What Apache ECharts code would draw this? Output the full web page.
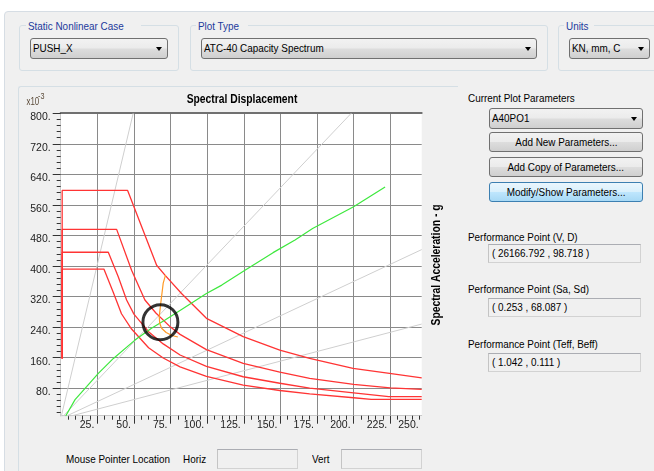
<!DOCTYPE html>
<html>
<head>
<meta charset="utf-8">
<script src="https://cdn.jsdelivr.net/npm/echarts@6/dist/echarts.min.js"></script>
<style>
body{margin:0;width:654px;height:471px;overflow:hidden;background:#fff;position:relative;
  font-family:'Liberation Sans',Arial,sans-serif;font-size:11.5px;color:#000}
#frame{position:absolute;left:4px;top:11px;width:670px;height:480px;background:#f0f0f0;border:1px solid #d6dde4;border-radius:4px}
.grp{position:absolute;border:1px solid #d5dfe5;border-radius:3px;box-sizing:border-box}
.gt{position:absolute;top:-7px;background:#f0f0f0;color:#1c3a9c;padding:0 2px;white-space:nowrap;line-height:14px}
.t{position:absolute;white-space:nowrap;line-height:14px}
.n{display:inline-block;transform:scaleX(.86);transform-origin:0 50%}
.btn{position:absolute;box-sizing:border-box;border:1px solid #707070;border-radius:3px;
  background:linear-gradient(#f2f2f2 0%,#ebebeb 48%,#dddddd 52%,#cfcfcf 100%);text-align:center;white-space:nowrap}
.btn .n{transform-origin:50% 50%}
.combo{text-align:left;padding-left:2px}
.combo .n{transform-origin:0 50%}
.arr{position:absolute;right:5px;top:8px;width:0;height:0;border-left:3.5px solid transparent;border-right:3.5px solid transparent;border-top:4px solid #000}
.tb{position:absolute;box-sizing:border-box;border:1px solid #d2d2d2;border-top-color:#abadb3;border-left-color:#c4c4c4;background:#f0f0f0;padding-left:3px;white-space:nowrap}
#chart{position:absolute;left:0;top:0;width:654px;height:471px}
</style>
</head>
<body>
<div id="frame"></div>

<div class="grp" style="left:19px;top:25px;width:160px;height:46px"><span class="gt" style="left:6px"><span class="n">Static Nonlinear Case</span></span></div>
<div class="btn combo" style="left:30px;top:38px;width:138px;height:21px;line-height:19px"><span class="n">PUSH_X</span><span class="arr"></span></div>

<div class="grp" style="left:190px;top:25px;width:358px;height:46px"><span class="gt" style="left:5px"><span class="n">Plot Type</span></span></div>
<div class="btn combo" style="left:201px;top:38px;width:336px;height:21px;line-height:19px"><span class="n">ATC-40 Capacity Spectrum</span><span class="arr"></span></div>

<div class="grp" style="left:558px;top:25px;width:120px;height:46px"><span class="gt" style="left:5px"><span class="n">Units</span></span></div>
<div class="btn combo" style="left:569px;top:38px;width:81px;height:21px;line-height:19px"><span class="n">KN, mm, C</span><span class="arr"></span></div>

<div class="grp" style="left:18px;top:86px;width:440px;height:400px;border-right:0;border-radius:3px 0 0 3px"></div>

<div class="t" style="left:468px;top:91px"><span class="n">Current Plot Parameters</span></div>
<div class="btn combo" style="left:489px;top:108px;width:154px;height:21px;line-height:19px"><span class="n">A40PO1</span><span class="arr"></span></div>
<div class="btn" style="left:489px;top:132px;width:154px;height:20px;line-height:18px"><span class="n">Add New Parameters...</span></div>
<div class="btn" style="left:489px;top:157px;width:154px;height:20px;line-height:18px"><span class="n">Add Copy of Parameters...</span></div>
<div class="btn" style="left:489px;top:182px;width:154px;height:20px;line-height:18px;border-color:#3c7fb1;background:linear-gradient(#eaf6fd 0%,#d9f0fc 48%,#bee6fd 52%,#a7d9f5 100%)"><span class="n">Modify/Show Parameters...</span></div>

<div class="t" style="left:468px;top:230px"><span class="n">Performance Point (V, D)</span></div>
<div class="tb" style="left:488px;top:244px;width:153px;height:19px;line-height:17px"><span class="n">( 26166.792 , 98.718 )</span></div>
<div class="t" style="left:468px;top:282px"><span class="n">Performance Point (Sa, Sd)</span></div>
<div class="tb" style="left:488px;top:298px;width:153px;height:19px;line-height:17px"><span class="n">( 0.253 , 68.087 )</span></div>
<div class="t" style="left:468px;top:337px"><span class="n">Performance Point (Teff, Beff)</span></div>
<div class="tb" style="left:488px;top:353px;width:153px;height:19px;line-height:17px"><span class="n">( 1.042 , 0.111 )</span></div>

<div class="t" style="left:66px;top:452px"><span class="n">Mouse Pointer Location</span></div>
<div class="t" style="left:183px;top:452px"><span class="n">Horiz</span></div>
<div class="tb" style="left:217px;top:449px;width:81px;height:20px"></div>
<div class="t" style="left:312px;top:452px"><span class="n">Vert</span></div>
<div class="tb" style="left:341px;top:449px;width:81px;height:20px"></div>

<div id="chart"></div>
<script>
var FONT = "'Liberation Sans',Arial,sans-serif";

// axes (Sd in mm, Sa in g x10^-3)
var xExtent = [0, 246.5];
var yExtent = [8, 802];
var xMajor = [25, 50, 75, 100, 125, 150, 175, 200, 225];
var yMajor = [80, 160, 240, 320, 400, 480, 560, 640, 720, 800];

// constant period lines
var periodT05 = [[0, 0], [49.5, 800]];
var periodT10 = [[0, 0], [198.4, 800]];
var periodT15 = [[0, 0], [246.5, 443]];
var periodT20 = [[0, 0], [246.5, 248]];

// demand spectra (red)
var demandA = [[1, 158], [1, 598], [45.7, 598], [65.5, 402], [71.2, 376], [82.5, 328], [99.5, 263], [124.6, 215], [149.6, 180], [170, 158], [199.6, 132], [224.5, 119], [246.5, 107]];
var demandB = [[1, 158], [1, 496], [38.2, 496], [48.4, 389], [57.5, 311], [65, 277], [75, 240], [81.5, 221], [99.5, 181], [124.6, 145], [149.6, 122], [170, 106], [200, 90], [225, 81], [246.5, 77]];
var demandC = [[1, 158], [1, 436], [32.5, 436], [39.3, 372], [45, 311], [50, 274], [60, 228], [70, 196], [81.5, 167], [99.5, 137], [124.6, 110], [149.6, 93], [170, 80], [200, 68], [224, 58], [246.5, 58]];
var demandD = [[1, 158], [1, 392], [29.5, 392], [36, 330], [41.5, 275], [48.4, 235], [60, 186], [70, 159], [81.5, 136], [99.5, 111], [124.6, 88], [149.6, 74], [170, 65], [200, 55], [212, 51], [246.5, 51]];

// capacity spectrum (green)
var capacity = [[3.5, 8], [9.8, 50], [17.7, 84], [25.7, 119], [36, 158], [50.7, 206], [62, 237], [71, 258], [83.6, 289], [99.5, 328], [110, 350], [125, 387], [145, 435], [160, 468], [172, 498], [200, 555], [221.5, 607]];

// single demand spectrum (orange)
var singleDemand = [[71.6, 377], [70, 355], [68.4, 305], [67.3, 268], [67.6, 250], [68.9, 237], [72, 226], [76, 218], [80, 214]];

var perfPoint = [68.087, 253];

// minor ticks between the major ones
var xMinor = [];
for (var i = 0; i < 50; i++) { if (i % 5 && i * 5 < xExtent[1]) xMinor.push(i * 5); }
var yMinor = [];
for (var j = 0; j < yMajor.length; j++) {
	for (var k = 1; k < 5; k++) {
		var v = yMajor[j] - 80 + k * 16;
		if (v > yExtent[0]) yMinor.push(v);
	}
}

var myChart = echarts.init(document.getElementById('chart'));

function lineSeries (data, color, width, z) {
	return {
		type: 'line',
		data: data,
		symbol: 'none',
		silent: true,
		z: z,
		clip: true,
		lineStyle: { color: color, width: width },
	};
}

var labelStyle = { fontSize: 10.5, color: '#222', fontFamily: FONT };

var option = {
	animation: false,
	grid: {
		left: 60.7, top: 112.5, right: 232.3, bottom: 55.3,
		show: true, backgroundColor: '#fff', borderWidth: 0,
		outerBoundsMode: 'none'
	},
	xAxis: [
		{
			type: 'value', min: xExtent[0], max: xExtent[1], interval: 25, position: 'bottom',
			axisLine: { show: true, lineStyle: { color: '#c8c8c8' } },
			axisTick: { show: true, length: 8, customValues: xMajor, lineStyle: { color: '#333' } },
			axisLabel: Object.assign({
				margin: 4, align: 'right', padding: [0, 3, 0, 0],
				showMinLabel: false, showMaxLabel: true,
				formatter: function (v) { return (Math.round(v / 25) * 25) + '.'; }
			}, labelStyle),
			splitLine: { show: true, lineStyle: { color: '#8a8a8a', width: 1 } }
		},
		{
			type: 'value', min: xExtent[0], max: xExtent[1], position: 'bottom',
			axisLine: { show: false },
			axisTick: { show: true, length: 4, customValues: xMinor, lineStyle: { color: '#333' } },
			axisLabel: { show: false },
			splitLine: { show: false }
		},
		{
			type: 'value', min: xExtent[0], max: xExtent[1], position: 'top',
			axisLine: { show: true, lineStyle: { color: '#707070', width: 2 } },
			axisTick: { show: false }, axisLabel: { show: false }, splitLine: { show: false }
		}
	],
	yAxis: [
		{
			type: 'value', min: yExtent[0], max: yExtent[1], position: 'left',
			axisLine: { show: true, lineStyle: { color: '#404040' } },
			axisTick: { show: true, length: 8, customValues: yMajor, lineStyle: { color: '#333' } },
			axisLabel: Object.assign({
				customValues: yMajor, margin: 10, verticalAlign: 'top', lineHeight: 8,
				formatter: function (v) { return v + '.'; }
			}, labelStyle),
			splitLine: { show: true, lineStyle: { color: '#8a8a8a', width: 1 } }
		},
		{
			type: 'value', min: yExtent[0], max: yExtent[1], position: 'left',
			axisLine: { show: false },
			axisTick: { show: true, length: 4, customValues: yMinor, lineStyle: { color: '#333' } },
			axisLabel: { show: false },
			splitLine: { show: false }
		},
		{
			type: 'value', min: yExtent[0], max: yExtent[1], position: 'right',
			axisLine: { show: true, lineStyle: { color: '#c8c8c8' } },
			axisTick: { show: false }, axisLabel: { show: false }, splitLine: { show: false }
		}
	],
	graphic: [
		{ type: 'text', x: 242, y: 99.5, scaleX: 0.86, style: { text: 'Spectral Displacement', font: 'bold 12px ' + FONT, fill: '#000', align: 'center', verticalAlign: 'middle', textAlign: 'center', textVerticalAlign: 'middle' } },
		{ type: 'text', x: 437, y: 265, rotation: Math.PI / 2, scaleX: 0.86, style: { text: 'Spectral Acceleration - g', font: 'bold 12px ' + FONT, fill: '#000', align: 'center', verticalAlign: 'middle', textAlign: 'center', textVerticalAlign: 'middle' } },
		{ type: 'text', x: 26.5, y: 102.5, scaleX: 0.75, style: { text: 'x10', font: '10.5px ' + FONT, fill: '#5a4a38', verticalAlign: 'middle', textVerticalAlign: 'middle' } },
		{ type: 'text', x: 38, y: 96.5, scaleX: 0.8, style: { text: '-3', font: '9px ' + FONT, fill: '#5a4a38', verticalAlign: 'middle', textVerticalAlign: 'middle' } }
	],
	series: [
		lineSeries(periodT05, '#cfcfcf', 1, 2),
		lineSeries(periodT10, '#cfcfcf', 1, 2),
		lineSeries(periodT15, '#cfcfcf', 1, 2),
		lineSeries(periodT20, '#cfcfcf', 1, 2),
		lineSeries(demandA, '#ff3434', 1.3, 3),
		lineSeries(demandB, '#ff3434', 1.3, 3),
		lineSeries(demandC, '#ff3434', 1.3, 3),
		lineSeries(demandD, '#ff3434', 1.3, 3),
		lineSeries(capacity, '#3ee83e', 1.2, 4),
		lineSeries(singleDemand, '#ff9a26', 1.2, 5),
		{
			type: 'scatter',
			data: [perfPoint],
			symbol: 'circle',
			symbolSize: 35,
			silent: true,
			z: 6,
			itemStyle: { color: 'rgba(0,0,0,0)', borderColor: '#000', borderWidth: 3 }
		}
	]
};

myChart.setOption(option);
</script>
</body>
</html>
